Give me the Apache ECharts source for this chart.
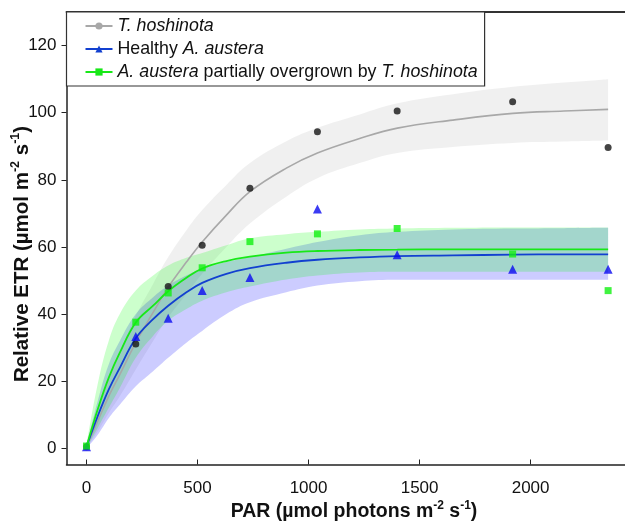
<!DOCTYPE html>
<html><head><meta charset="utf-8">
<script src="https://cdn.jsdelivr.net/npm/echarts@6/dist/echarts.min.js"></script>
<style>html,body{margin:0;padding:0;background:#fff}#c{width:625px;height:523px}</style>
</head><body><div id="c"></div>
<script>
// ---- measured points ----
const PAR = [0, 222, 368, 521, 736, 1040, 1399, 1919, 2349];
const ETR_HOSHINOTA = [0.5, 31.1, 48.2, 60.5, 77.5, 94.3, 100.5, 103.3, 89.6];
const ETR_HEALTHY   = [0.5, 33.3, 38.8, 47.0, 50.9, 71.3, 57.7, 53.4, 53.4];
const ETR_OVERGROWN = [0.7, 37.6, 46.3, 53.8, 61.6, 63.9, 65.5, 57.9, 47.0];

// ---- fitted curves and confidence bands ----
const FIT_PAR = [0, 50, 100, 150, 222, 300, 368, 450, 521, 630, 736, 900, 1040, 1230, 1400, 1650, 1920, 2150, 2349];
const FIT_HOSHINOTA   = [0.5, 8, 15.5, 22, 31.5, 40.5, 48, 55.5, 61.5, 69.5, 76.5, 83.5, 88, 92.3, 95.4, 97.8, 99.8, 100.5, 101];
const UP_HOSHINOTA    = [1, 11, 20.5, 28.5, 39.5, 49, 57, 65, 71, 78.5, 85, 91.5, 95.5, 99.5, 102.8, 105.5, 107.7, 109, 110];
const LO_HOSHINOTA    = [0, 5, 10.5, 15.5, 23.5, 32, 39, 46, 52, 60, 67, 75, 80.5, 85, 88, 89.8, 91, 91.4, 91.7];
const FIT_HEALTHY     = [0.5, 9.5, 17.5, 24, 32.8, 38.5, 42.5, 46.5, 49.3, 52, 53.7, 55.3, 56.2, 56.9, 57.3, 57.5, 57.7, 57.8, 57.8];
const UP_HEALTHY      = [1, 14, 25, 32, 40, 45, 48.5, 51.5, 53.5, 55.5, 57, 59.5, 61.5, 63.5, 64.5, 65.2, 65.5, 65.6, 65.7];
const LO_HEALTHY      = [0, 4, 9, 13, 18.5, 23, 27, 31.5, 35, 40, 43.5, 46.5, 48.5, 49.8, 50.2, 50.2, 50.2, 50.2, 50.2];
const FIT_OVERGROWN   = [0.5, 11.5, 21, 28.5, 37.5, 42.5, 46.8, 50.8, 53.6, 55.8, 57.1, 58.3, 58.8, 59.1, 59.2, 59.3, 59.3, 59.3, 59.3];
const UP_OVERGROWN    = [1, 19, 32, 40, 47, 51.5, 54.5, 56.8, 58.2, 60.5, 62.6, 63.8, 64.5, 65.2, 65.5, 65.7, 65.8, 65.8, 65.8];
const LO_OVERGROWN    = [0, 6, 12, 18, 27, 33.5, 38, 41.5, 44, 46.5, 48.2, 50.3, 51.5, 52.4, 52.6, 52.6, 52.6, 52.6, 52.6];

// ---- ticks / labels ----
const X_TICKS = [0, 500, 1000, 1500, 2000];
const Y_TICKS = [0, 20, 40, 60, 80, 100, 120];
const NAMES = ['T. hoshinota', 'Healthy A. austera', 'A. austera partially overgrown by T. hoshinota'];
const LEGEND_RICH = {
  'T. hoshinota': '{i|T. hoshinota}',
  'Healthy A. austera': 'Healthy {i|A. austera}',
  'A. austera partially overgrown by T. hoshinota': '{i|A. austera} partially overgrown by {i|T. hoshinota}'
};

const FONT = 'Liberation Sans, Arial, Helvetica, sans-serif';
const pairs = (xs, ys) => xs.map((x, i) => [x, ys[i]]);
// value first, PAR second, so that stacking happens on the value (y) dimension
const vpairs = (xs, ys) => xs.map((x, i) => [ys[i], x]);

function band(id, lo, up, color, z) {
  return [
    { type: 'line', name: id + '_lo', stack: id, data: vpairs(FIT_PAR, lo), encode: { x: 1, y: 0 },
      smooth: 0.4, symbol: 'none', lineStyle: { opacity: 0 }, silent: true, z: z },
    { type: 'line', name: id + '_band', stack: id, data: vpairs(FIT_PAR, up.map((u, i) => u - lo[i])),
      encode: { x: 1, y: 0 }, smooth: 0.4, symbol: 'none', lineStyle: { opacity: 0 },
      areaStyle: { color: color, opacity: 1 }, silent: true, z: z }
  ];
}

const COLORS = {
  gray: '#a8a8a8', blue: '#1240d0', green: '#18e818',
  dot: '#151515', tri: '#0a0af0', sq: '#10f010'
};

const series = [
  ...band('g', LO_HOSHINOTA, UP_HOSHINOTA, 'rgba(0,0,0,0.06)', 1),
  ...band('b', LO_HEALTHY, UP_HEALTHY, 'rgba(0,0,255,0.2)', 1),
  ...band('n', LO_OVERGROWN, UP_OVERGROWN, 'rgba(0,255,0,0.2)', 1),
  { type: 'line', name: NAMES[0], data: pairs(FIT_PAR, FIT_HOSHINOTA), smooth: 0.4, showSymbol: false,
    symbol: 'circle', symbolSize: 6, color: COLORS.gray, lineStyle: { width: 1.6, color: COLORS.gray }, z: 3 },
  { type: 'line', name: NAMES[1], data: pairs(FIT_PAR, FIT_HEALTHY), smooth: 0.4, showSymbol: false,
    symbol: 'triangle', symbolSize: 8, color: COLORS.blue, lineStyle: { width: 1.8, color: COLORS.blue }, z: 3 },
  { type: 'line', name: NAMES[2], data: pairs(FIT_PAR, FIT_OVERGROWN), smooth: 0.4, showSymbol: false,
    symbol: 'rect', symbolSize: 7, color: COLORS.green, lineStyle: { width: 1.8, color: COLORS.green }, z: 3 },
  { type: 'scatter', name: 'pts_h', data: pairs(PAR, ETR_HOSHINOTA), symbol: 'circle', symbolSize: 7,
    itemStyle: { color: COLORS.dot }, z: 5 },
  { type: 'scatter', name: 'pts_b', data: pairs(PAR, ETR_HEALTHY), symbol: 'triangle', symbolSize: 9,
    itemStyle: { color: COLORS.tri }, z: 5 },
  { type: 'scatter', name: 'pts_n', data: pairs(PAR, ETR_OVERGROWN), symbol: 'rect', symbolSize: 7,
    itemStyle: { color: COLORS.sq }, z: 6 }
];

const chart = echarts.init(document.getElementById('c'), null, { renderer: 'canvas' });
chart.setOption({
  animation: false,
  backgroundColor: '#fff',
  textStyle: { fontFamily: FONT },
  grid: { left: 66.5, right: 0, top: 12, bottom: 58.5, containLabel: false },
  xAxis: [{
    type: 'value', min: -90, max: 2425, position: 'bottom',
    axisLine: { show: true, onZero: false, lineStyle: { color: '#222', width: 1.5 } },
    axisTick: { show: true, inside: true, length: 5, customValues: X_TICKS, lineStyle: { color: '#222' } },
    axisLabel: { customValues: X_TICKS, fontSize: 17, color: '#111', margin: 15, fontFamily: FONT,
      formatter: v => String(v) },
    splitLine: { show: false }
  }, {
    type: 'value', min: -90, max: 2425, position: 'top',
    axisLine: { show: true, onZero: false, lineStyle: { color: '#333', width: 1.8 } },
    axisTick: { show: false }, axisLabel: { show: false }, splitLine: { show: false }
  }],
  yAxis: {
    type: 'value', min: -4.8, max: 130, position: 'left',
    axisLine: { show: true, onZero: false, lineStyle: { color: '#222', width: 1.5 } },
    axisTick: { show: true, inside: false, length: 5, customValues: Y_TICKS, lineStyle: { color: '#222' } },
    axisLabel: { customValues: Y_TICKS, fontSize: 17, color: '#111', margin: 10, fontFamily: FONT,
      formatter: v => String(v) },
    splitLine: { show: false }
  },
  legend: {
    data: NAMES, orient: 'vertical', left: 66.5, top: 12,
    backgroundColor: '#fff', borderColor: '#333', borderWidth: 1.2, borderRadius: 0,
    padding: [5, 7, 5, 18], itemGap: 5, itemWidth: 27, itemHeight: 9,
    formatter: n => LEGEND_RICH[n],
    textStyle: { fontSize: 17.8, color: '#111', fontFamily: FONT,
      rich: { i: { fontSize: 17.8, fontStyle: 'italic', color: '#111', fontFamily: FONT } } },
    selectedMode: false
  },
  graphic: [
    { type: 'text', x: 354, y: 511, z: 10,
      style: { text: '{m|PAR (µmol photons m}{s|-2}{m| s}{s|-1}{m|)}', align: 'center', verticalAlign: 'middle',
        rich: {
          m: { fontFamily: FONT, fontWeight: 'bold', fontSize: 19.5, fill: '#111', lineHeight: 22, verticalAlign: 'bottom' },
          s: { fontFamily: FONT, fontWeight: 'bold', fontSize: 12, fill: '#111', lineHeight: 22, verticalAlign: 'top' }
        } } },
    { type: 'text', x: 21, y: 254, rotation: Math.PI / 2, z: 10,
      style: { text: '{m|Relative ETR (µmol m}{s|-2}{m| s}{s|-1}{m|)}', align: 'center', verticalAlign: 'middle',
        rich: {
          m: { fontFamily: FONT, fontWeight: 'bold', fontSize: 20.5, fill: '#111', lineHeight: 23, verticalAlign: 'bottom' },
          s: { fontFamily: FONT, fontWeight: 'bold', fontSize: 12.5, fill: '#111', lineHeight: 23, verticalAlign: 'top' }
        } } }
  ],
  series: series
});
</script></body></html>
